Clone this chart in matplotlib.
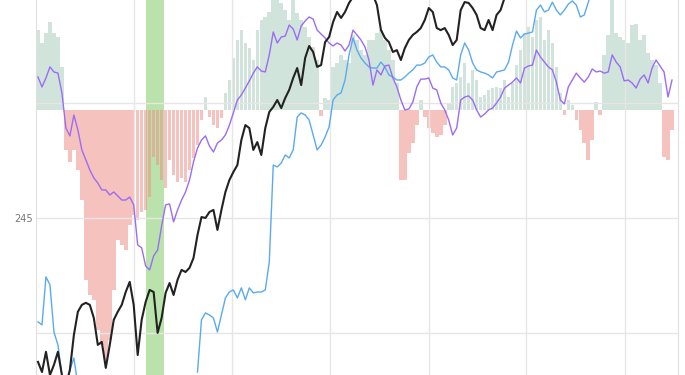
import numpy as np
import matplotlib
matplotlib.use("Agg")
import matplotlib.pyplot as plt

nan = np.nan

# histogram values (indicator, own scale)
hist = [8.0, 6.7, 7.7, 8.8, 7.7, 7.3, 4.3, -4.0, -5.2, -4.0,
        -6.0, -9.0, -17.0, -18.5, -19.0, -22.0, -23.5, -25.0, -23.0, -18.0,
        -13.0, -13.5, -14.0, -11.5, -10.5, -11.0, -10.2, -10.0, -8.7, -4.7,
        -5.5, -7.0, -7.8, -5.0, -6.5, -7.2, -6.8, -7.2, -6.0, -4.8,
        -3.5, -1.0, 1.3, -0.7, -1.5, -1.8, -0.8, 1.7, 3.0, 5.2,
        7.0, 8.0, 6.7, 6.2, 5.0, 8.0, 9.0, 9.3, 9.8, 12.0,
        12.0, 10.7, 10.0, 9.0, 12.0, 9.7, 9.0, 8.3, 7.3, 6.3,
        5.0, -0.6, 1.2, 1.0, 4.3, 4.7, 5.5, 5.0, 4.7, 7.5,
        7.0, 6.0, 5.5, 7.0, 7.0, 7.7, 8.0, 7.0, 6.0, 5.0,
        2.7, -7.0, -7.0, -4.3, -3.3, -1.5, 1.0, -0.7, -1.8, -2.3,
        -2.7, -2.5, -1.5, 0.6, 2.3, 2.7, 3.3, 4.7, 2.7, 4.0,
        3.0, 1.3, 1.5, 2.0, 2.2, 2.3, 2.2, 3.0, 1.3, 2.7,
        4.5, 6.0, 7.7, 8.3, 7.3, 9.0, 9.3, 7.0, 8.0, 6.7,
        4.3, 1.7, -0.5, 1.0, 0.5, -1.0, -2.0, -3.3, -5.0, -3.0,
        0.8, -0.5, 5.5, 7.5, 12.0, 7.7, 7.3, 7.0, 6.7, 8.5,
        8.6, 7.0, 7.5, 5.7, 5.0, 4.5, 2.7, -4.7, -5.0, -2.0]

# price
close = [238.74, 238.30, 239.18, 238.17, 238.61, 239.18, 238.17, 237.74, 238.39, 239.91,
         240.92, 241.22, 241.31, 241.22, 240.65, 239.48, 239.61, 238.48, 239.48, 240.57,
         240.92, 241.22, 241.78, 242.22, 241.22, 239.04, 240.57, 241.35, 241.87, 241.78,
         240.00, 240.65, 241.74, 242.17, 241.65, 242.31, 242.74, 242.65, 242.83, 243.26,
         244.26, 245.04, 245.00, 245.26, 245.35, 244.48, 245.35, 246.13, 246.65, 247.00,
         247.30, 248.39, 249.04, 248.91, 247.96, 248.30, 247.74, 248.91, 249.61, 249.83,
         250.13, 249.78, 250.22, 250.57, 251.09, 251.52, 250.78, 251.96, 252.48, 252.22,
         251.57, 251.65, 252.65, 252.87, 253.52, 253.96, 253.70, 253.96, 254.35, 254.61,
         254.91, 255.00, 254.83, 254.70, 254.70, 254.26, 253.18, 252.83, 252.65, 252.22,
         252.30, 251.87, 252.39, 252.74, 252.96, 253.09, 253.26, 253.61, 254.13, 253.96,
         253.26, 253.17, 253.26, 252.96, 252.52, 252.74, 254.04, 254.39, 254.35, 254.13,
         253.83, 253.26, 253.17, 253.61, 253.17, 253.83, 254.04, 254.57, 255.00] + [nan] * 41

blue = [240.48, 240.35, 242.44, 242.09, 240.04, 239.48, 238.17, 237.52, 238.39, 238.91,
        237.74, 236.65] + [nan] * 28 + [
        238.30, 240.57, 240.87, 240.78, 240.65, 240.04, 240.78, 241.52, 241.78, 241.87,
        241.52, 241.96, 241.44, 241.96, 241.74, 241.78, 241.78, 241.87, 243.09, 247.30,
        247.22, 247.39, 247.74, 247.61, 247.96, 249.39, 249.57, 249.48, 249.26, 248.61,
        247.96, 248.17, 248.52, 248.96, 250.13, 250.35, 250.44, 251.00, 252.09, 252.83,
        252.30, 251.96, 251.74, 251.57, 251.52, 251.52, 251.78, 251.57, 251.22, 251.13,
        251.00, 251.00, 251.13, 251.30, 251.44, 251.65, 251.65, 251.74, 252.00, 252.09,
        251.78, 251.57, 251.57, 251.44, 251.09, 251.00, 252.09, 252.61, 252.31, 251.74,
        251.44, 251.35, 251.30, 251.22, 251.09, 251.35, 251.39, 251.44, 251.78, 252.52,
        253.13, 252.83, 253.00, 253.04, 253.09, 254.04, 254.26, 253.96, 254.04, 254.39,
        254.04, 253.83, 254.04, 254.30, 254.44, 254.26, 253.74, 253.83, 254.39, 254.91] + [nan] * 20

purple = [251.13, 250.70, 251.09, 251.57, 251.35, 251.30, 250.44, 248.91, 248.57, 249.48,
          248.83, 247.96, 247.52, 247.09, 246.74, 246.52, 246.22, 246.22, 246.00, 246.13,
          245.96, 245.78, 245.78, 245.91, 245.57, 243.83, 243.70, 242.91, 242.74, 243.35,
          243.61, 244.65, 245.57, 245.61, 244.83, 245.35, 245.78, 246.13, 246.65, 247.44,
          248.04, 248.39, 248.57, 248.13, 247.87, 248.26, 248.39, 248.61, 249.04, 249.57,
          250.13, 250.35, 250.65, 250.96, 251.30, 251.57, 251.39, 251.35, 252.09, 253.09,
          252.61, 252.87, 252.91, 253.39, 253.22, 252.74, 253.35, 253.57, 253.74, 253.65,
          253.17, 253.00, 252.83, 252.61, 252.48, 252.61, 252.52, 252.26, 252.52, 253.17,
          252.96, 252.74, 252.44, 251.87, 250.78, 251.44, 251.22, 251.61, 251.65, 251.09,
          250.70, 250.13, 249.70, 249.74, 250.04, 250.70, 251.04, 251.04, 251.09, 250.65,
          250.57, 250.00, 249.70, 249.26, 248.61, 248.91, 250.13, 250.26, 250.31, 250.13,
          249.70, 249.39, 249.52, 249.70, 249.78, 250.00, 250.26, 250.65, 250.78, 250.91,
          251.09, 250.87, 251.52, 251.61, 251.65, 252.30, 252.00, 251.78, 251.57, 251.44,
          250.91, 250.13, 249.96, 250.70, 251.00, 251.30, 251.09, 250.91, 251.13, 251.48,
          251.35, 251.39, 251.30, 251.35, 252.09, 251.78, 251.57, 250.96, 251.00, 250.87,
          250.65, 251.04, 251.22, 250.87, 251.52, 251.87, 251.61, 251.35, 250.26, 251.00]

highlight = (27.0, 31.5)  # highlighted period (bar index)
period_ticks = [24.0, 48.75, 73.25, 98.0, 122.5, 147.25]

x = np.arange(len(hist))
hist = np.array(hist)

fig = plt.figure(figsize=(6.85, 3.75), dpi=100)
ax = fig.add_axes([36 / 685, 0, 642 / 685, 1])
axb = ax.twinx()
axb.set_zorder(0)
ax.set_zorder(1)
ax.patch.set_visible(False)

# histogram + highlighted window
axb.axvspan(highlight[0], highlight[1], color='#74c956', alpha=0.5, lw=0, zorder=0.5)
pos = hist >= 0
axb.bar(x[pos], hist[pos], width=0.9, color='#8fbfaa', alpha=0.42, lw=0, zorder=1)
axb.bar(x[~pos], hist[~pos], width=0.9, color='#f0908a', alpha=0.55, lw=0, zorder=1)
axb.set_ylim(-26.5, 11.0)
axb.set_yticks([])

# lines
ax.plot(x, blue, color='#5aaaf0', lw=1.0, zorder=3)
ax.plot(x, purple, color='#9b6cf5', lw=1.0, zorder=3)
ax.plot(x, close, color='#222222', lw=1.5, zorder=4)

ax.set_xlim(-0.5, 160.5)
ax.set_ylim(238.17, 254.48)
ax.set_yticks([240, 245, 250])
ax.set_yticklabels(['', '245', ''])
ax.set_xticks(period_ticks)
ax.set_xticklabels([])
ax.tick_params(length=0, labelsize=7, labelcolor='#777777', pad=2)
ax.grid(True, color='#e6e6e6', lw=1)
for s in ['top', 'bottom']:
    ax.spines[s].set_visible(False)
    axb.spines[s].set_visible(False)
for s in ['left', 'right']:
    ax.spines[s].set_color('#e0e0e0')
    axb.spines[s].set_visible(False)

fig.savefig('out.png', dpi=100)
